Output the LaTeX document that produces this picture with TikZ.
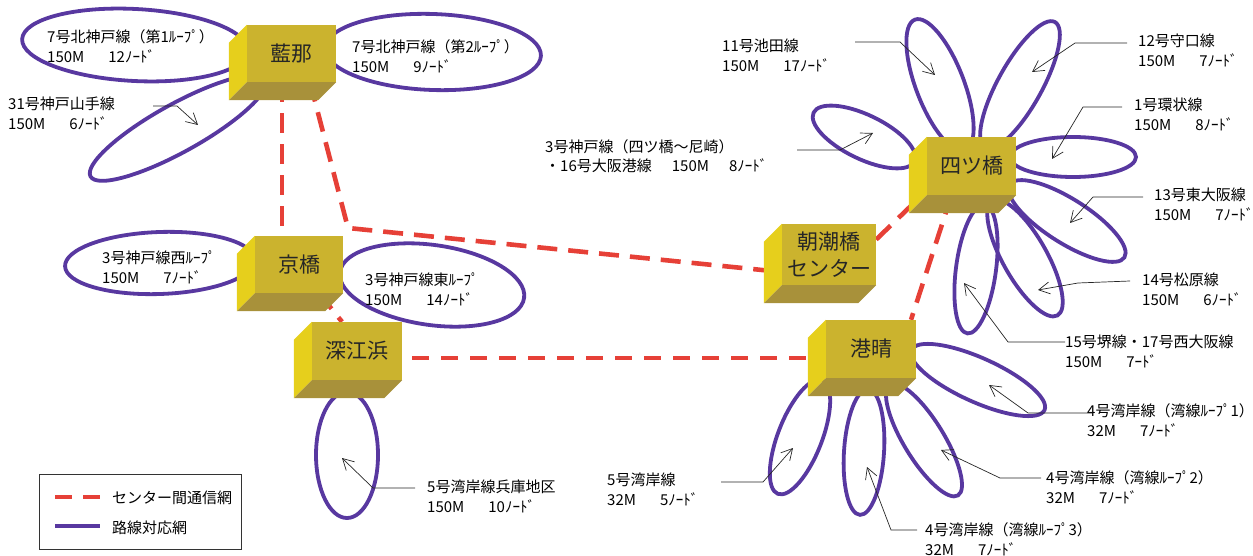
\documentclass[tikz,border=0pt]{standalone}
\usepackage{fontspec}
\setmainfont{Noto Sans CJK JP}
\usetikzlibrary{calc,arrows.meta}
\definecolor{loopc}{RGB}{88,56,160}
\definecolor{netc}{RGB}{230,64,55}
\definecolor{frontc}{RGB}{203,179,46}
\definecolor{leftc}{RGB}{230,207,28}
\definecolor{botc}{RGB}{168,145,58}
\pgfdeclarelayer{bg}
\pgfsetlayers{bg,main}
\newcommand\boxsides[1]{%
  \fill[leftc] ($(#1.north west)+(-18,18)$) -- (#1.north west) -- (#1.south west) -- ($(#1.south west)+(-18,18)$) -- cycle;
  \fill[botc] (#1.south west) -- (#1.south east) -- ($(#1.south east)+(-18,18)$) -- ($(#1.south west)+(-18,18)$) -- cycle;}
\newcommand\petal[4]{\draw[loopline, rotate around={#4:(#1)}] (#1) ellipse [x radius=#2pt, y radius=#3pt];}
\newcommand\gp{\hspace{24pt}}
\newcommand\ptrline[4]{%
  \coordinate (#1s) at (#2); \coordinate (#1m) at (#3); \coordinate (#1t) at (#4);
  \draw[ptr] (#1s) -- (#1m) -- (#1t);}
\tikzset{
  loopline/.style={draw=loopc, line width=3.8pt},
  netline/.style={draw=netc, line width=4.6pt, dash pattern=on 20pt off 11pt},
  ptr/.style={draw=black!85, line width=0.7pt, -{Straight Barb[length=11pt,width=12pt,line width=0.7pt]}},
  lbl/.style={anchor=base west, inner sep=0pt, align=left, font=\fontsize{15}{20}\selectfont},
  cbox/.style={fill=frontc, inner sep=0pt, font=\fontsize{21}{27}\selectfont, text=black!85, align=center},
}
\begin{document}
\begin{tikzpicture}[x=1pt,y=-1pt]
\useasboundingbox (0,0) rectangle (1253,556);

% ---------- center boxes ----------
\node[cbox, minimum width=89pt, minimum height=57pt] (ai) at (291.5,53.5) {藍那};
\boxsides{ai}
\node[cbox, minimum width=88pt, minimum height=57pt] (kyo) at (299,264.5) {京橋};
\boxsides{kyo}
\node[cbox, minimum width=90pt, minimum height=58pt] (fuka) at (357,351) {深江浜};
\boxsides{fuka}
\node[cbox, minimum width=94pt, minimum height=61pt] (asa) at (829,254.5) {朝潮橋\\センター};
\boxsides{asa}
\node[cbox, minimum width=89pt, minimum height=58pt] (yotsu) at (971.5,166) {四ツ橋};
\boxsides{yotsu}
\node[cbox, minimum width=90pt, minimum height=58pt] (kosei) at (871,349) {港晴};
\boxsides{kosei}

\begin{pgfonlayer}{bg}
% ---------- route loops ----------
\petal{135,45}{113}{36}{-3}
\petal{433,52}{108}{38}{-2}
\petal{178,128}{100}{24}{29}
\petal{160,263}{95}{31}{2}
\petal{432,285}{93}{40}{-8}
\petal{347,455}{31}{63}{0}
% 四ツ橋
\petal{940,85}{70}{24}{-69}
\petal{1020,85}{72}{22}{61}
\petal{1073,157}{63}{20}{0}
\petal{1067,221}{68}{22}{-32.4}
\petal{1025,258}{66}{22}{-60.5}
\petal{976,269}{65}{20}{82.4}
\petal{864,137}{56}{22}{-25.8}
% 港晴
\petal{978,380}{73}{22}{-24.3}
\petal{924,440}{65}{20}{-58.5}
\petal{864,452}{63}{20}{86.3}
\petal{800,437}{61}{22}{68.7}

% ---------- center network ----------
\coordinate (bend) at (348,228);
\draw[netline] ($(ai.south)+(-9.5,0)$) -- ($(kyo.north)+(-17,0)$);
\draw[netline] ($(ai.south)+(18.5,0)$) -- (bend) -- ($(asa.west)+(0,17.5)$);
\draw[netline] ($(kyo.south)+(20,0)$) -- ($(fuka.north)+(-15,0)$);
\draw[netline, dash pattern=on 17pt off 12pt, dash phase=-10pt] ($(fuka.east)+(0,7)$) -- ($(kosei.west)+(0,9)$);
\draw[netline] ($(asa.east)+(0,-15)$) -- ($(yotsu.south west)+(-10,5)$);
\draw[netline] ($(yotsu.south)+(-20,0)$) -- ($(kosei.north)+(40,0)$);
\end{pgfonlayer}

% ---------- labels (anchor = baseline of the second line) ----------
\node[lbl] (t1) at (47,63) {7号北神戸線（第1ﾙｰﾌﾟ）\\150M\gp12ﾉｰﾄﾞ};
\node[lbl] (t2) at (352,73) {7号北神戸線（第2ﾙｰﾌﾟ）\\150M\gp9ﾉｰﾄﾞ};
\node[lbl] (t3) at (8,130) {31号神戸山手線\\150M\gp6ﾉｰﾄﾞ};
\node[lbl] (t4) at (102,283) {3号神戸線西ﾙｰﾌﾟ\\150M\gp7ﾉｰﾄﾞ};
\node[lbl] (t5) at (365,305) {3号神戸線東ﾙｰﾌﾟ\\150M\gp14ﾉｰﾄﾞ};
\node[lbl] (t6) at (427,512) {5号湾岸線兵庫地区\\150M\gp10ﾉｰﾄﾞ};
\node[lbl, font=\fontsize{15}{19}\selectfont] (t7) at (545,172) {3号神戸線（四ツ橋～尼崎）\\・16号大阪港線\hspace{20pt}150M\hspace{20pt}8ﾉｰﾄﾞ};
\node[lbl] (t8) at (722,72) {11号池田線\\150M\gp17ﾉｰﾄﾞ};
\node[lbl] (t9) at (1138,67) {12号守口線\\150M\gp7ﾉｰﾄﾞ};
\node[lbl] (t10) at (1134,131) {1号環状線\\150M\gp8ﾉｰﾄﾞ};
\node[lbl] (t11) at (1154,221) {13号東大阪線\\150M\gp7ﾉｰﾄﾞ};
\node[lbl] (t12) at (1142,305) {14号松原線\\150M\gp6ﾉｰﾄﾞ};
\node[lbl] (t13) at (1065,367) {15号堺線・17号西大阪線\\150M\gp7ｰﾄﾞ};
\node[lbl] (t14) at (1087,436) {4号湾岸線（湾線ﾙｰﾌﾟ1）\\32M\gp7ﾉｰﾄﾞ};
\node[lbl] (t15) at (1046,503) {4号湾岸線（湾線ﾙｰﾌﾟ2）\\32M\gp7ﾉｰﾄﾞ};
\node[lbl] (t16) at (925,555) {4号湾岸線（湾線ﾙｰﾌﾟ3）\\32M\gp7ﾉｰﾄﾞ};
\node[lbl] (t17) at (607,505) {5号湾岸線\\32M\gp5ﾉｰﾄﾞ};

% ---------- pointers ----------
\ptrline{p3}{153,106}{177,106}{198,125}
\ptrline{p6}{415,488}{373,488}{342,458}
\ptrline{p7}{797,150}{840,150}{873,133}
\ptrline{p8}{855,42}{900,42}{935,75}
\ptrline{p9}{1127,43}{1075,43}{1032,72}
\ptrline{p10}{1122,107}{1083,107}{1052,159}
\ptrline{p11}{1143,197}{1093,197}{1070,223}
\ptrline{p12}{1130,281}{1078,283}{1038,290}
\ptrline{p13}{1065,342}{1008,342}{964,283}
\ptrline{p14}{1093,413}{1028,413}{989,385}
\ptrline{p15}{1041,478}{1000,478}{941,450}
\ptrline{p16}{917,530}{891,530}{867,467}
\ptrline{p17}{721,482}{763,482}{793,448}

% ---------- legend ----------
\node[draw=black!80, line width=0.8pt, minimum width=202pt, minimum height=75pt, inner sep=0pt] (leg) at (140,511.5) {};
\coordinate (la) at (55,497); \coordinate (lb) at (100,497);
\coordinate (lc) at (55,526); \coordinate (ld) at (100,526);
\draw[netline, dash pattern=on 17pt off 11pt] (la) -- (lb);
\draw[loopline] (lc) -- (ld);
\node[lbl] (lt1) at (112,503) {センター間通信網};
\node[lbl] (lt2) at (112,533) {路線対応網};
\end{tikzpicture}
\end{document}
